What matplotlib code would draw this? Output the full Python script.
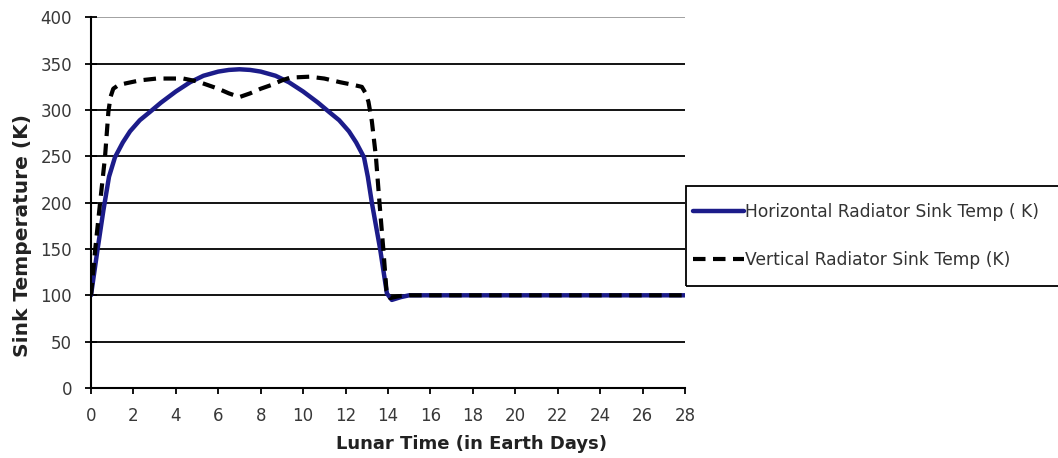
#!/usr/bin/env python3
"""Lunar radiator sink temperature over one lunar day."""
import matplotlib
matplotlib.use("Agg")
import matplotlib.pyplot as plt
from matplotlib.patches import Rectangle

# Horizontal radiator sink temperature (K) vs lunar time (earth days)
horiz_t = [0, 0.3, 0.58, 0.85, 1.13, 1.5, 1.84, 2.3, 2.78, 3.3, 4.0, 4.67, 5.3,
           6.0, 6.5, 7.0, 7.5, 8.0, 8.7, 9.33, 10.0, 10.7, 11.22, 11.7, 12.16,
           12.5, 12.87, 13.05, 13.24, 13.63, 13.95, 14.18, 14.6, 15.0, 20.0, 28.0]
horiz_k = [100, 148, 191, 228, 249, 265, 277, 289, 298, 308, 320, 330, 337,
           341.5, 343.3, 344, 343.3, 341.5, 337, 330, 320, 308, 298, 289, 277,
           265, 249, 228, 200, 150, 102, 95, 98, 100, 100, 100]

# Vertical radiator sink temperature (K)
vert_t = [0, 0.2, 0.42, 0.66, 0.82, 0.92, 1.05, 1.3, 1.68, 2.3, 3.1, 4.35, 5.0,
          5.5, 6.0, 6.5, 7.0, 7.5, 8.0, 8.5, 9.0, 9.39, 10.3, 11.0, 11.75, 12.4,
          12.77, 12.95, 13.08, 13.24, 13.43, 13.6, 13.78, 13.93, 14.1, 14.5,
          15.0, 20.0, 28.0]
vert_k = [100, 150, 198, 249, 298, 314, 323, 327, 329, 332, 334, 334, 331,
          327, 323, 318, 314, 318, 323, 327, 332, 335, 336, 334, 330, 327,
          325, 318, 309, 288, 250, 200, 150, 105, 97, 99,
          100, 100, 100]

labels = ["Horizontal Radiator Sink Temp ( K)", "Vertical Radiator Sink Temp (K)"]

fig = plt.figure(figsize=(10.58, 4.58), dpi=100)
ax = fig.add_axes([0.086, 0.153, 0.5614, 0.809])

navy = "#1c1c8a"
h1, = ax.plot(horiz_t, horiz_k, color=navy, lw=3.2,
              solid_capstyle="round", solid_joinstyle="round")
h2, = ax.plot(vert_t, vert_k, color="black", lw=3, linestyle=(0, (3, 1.8)),
              dash_joinstyle="round")

ax.set_xlim(0, 28)
ax.set_ylim(0, 400)
ax.set_xticks(range(0, 29, 2))
ax.set_yticks(range(0, 401, 50))

ax.yaxis.grid(True, color="black", lw=1.3)
ax.yaxis.get_gridlines()[-1].set_color("#9a9a9a")
ax.set_axisbelow(True)
for s in ("top", "right"):
    ax.spines[s].set_visible(False)
ax.spines["left"].set_linewidth(1.5)
ax.spines["bottom"].set_linewidth(1.5)

ax.tick_params(axis="y", direction="inout", length=9, width=1.3,
               labelsize=12, labelcolor="#383838", pad=9)
ax.tick_params(axis="x", direction="out", length=4, width=1.3,
               labelsize=12, labelcolor="#383838", pad=10)

ax.set_xlabel("Lunar Time (in Earth Days)", fontsize=13, fontweight="bold",
              color="#222222")
ax.set_ylabel("Sink Temperature (K)", fontsize=14.5, fontweight="bold",
              color="#222222")
ax.xaxis.set_label_coords(0.641, -0.128)
ax.yaxis.set_label_coords(-0.099, 0.412)

# legend box sticking out past the right edge, like the original
fig.patches.append(Rectangle((686 / 1058, 1 - 286 / 458), 400 / 1058, 100 / 458,
                             transform=fig.transFigure, fill=False,
                             edgecolor="black", lw=1.3))
fig.legend([h1, h2], labels, loc="center left",
           bbox_to_anchor=(686 / 1058, 1 - 236 / 458), frameon=False,
           fontsize=12.3, handlelength=3.0, handletextpad=0.05,
           labelspacing=1.75, labelcolor="#333333", borderaxespad=0)

fig.savefig("out.png", dpi=100)
